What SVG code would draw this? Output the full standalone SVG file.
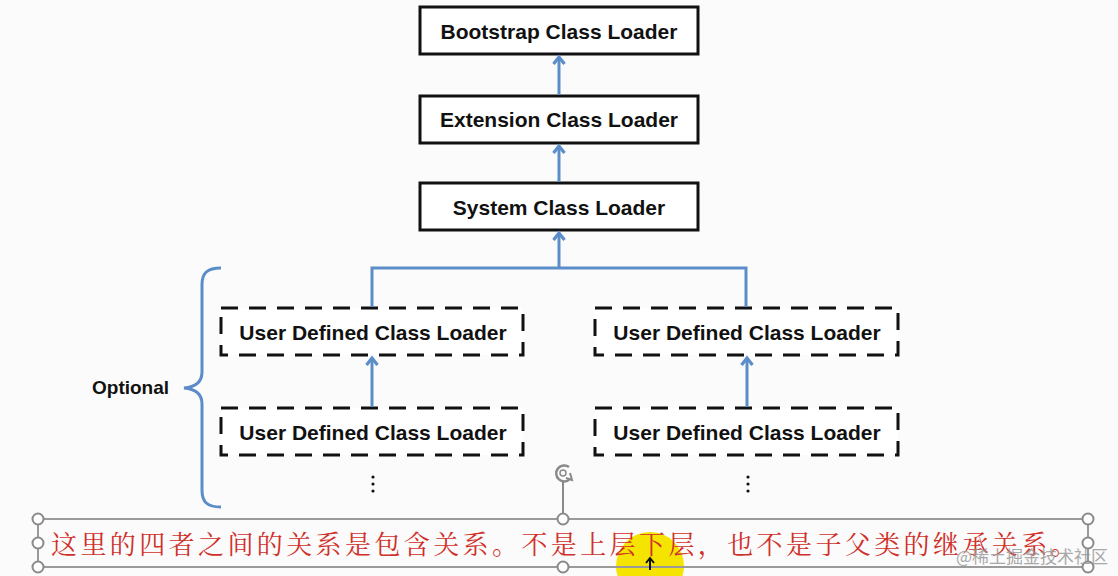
<svg xmlns="http://www.w3.org/2000/svg" width="1118" height="576" viewBox="0 0 1118 576">
<style>
.box{fill:#ffffff;stroke:#111;stroke-width:3}
.dbox{fill:#ffffff;stroke:#111;stroke-width:3;stroke-dasharray:17 11}
.lbl{font-family:"Liberation Sans",Arial,sans-serif;font-weight:bold;font-size:21px;fill:#111;text-anchor:middle}
.conn{fill:none;stroke:#5b8dc8;stroke-width:3}
.frame{fill:none;stroke:#9a9a9a;stroke-width:2}
.hdl{fill:#ffffff;stroke:#8a8a8a;stroke-width:2}
</style>
<defs>
<marker id="ah" viewBox="0 0 14 14" refX="11" refY="7" markerWidth="14" markerHeight="14" markerUnits="userSpaceOnUse" orient="auto">
<path d="M4,1.5 L11,7 L4,12.5" fill="none" stroke="#5b8dc8" stroke-width="3.2" stroke-linejoin="miter"/>
</marker>
</defs>
<rect width="1118" height="576" fill="#fbfbfb"/>

<g id="bootstrap">
<rect class="box" x="420" y="7" width="278" height="47"/>
<text class="lbl" x="559" y="39">Bootstrap Class Loader</text>
</g>
<g id="extension">
<rect class="box" x="420" y="96" width="278" height="47"/>
<text class="lbl" x="559" y="127">Extension Class Loader</text>
</g>
<g id="system">
<rect class="box" x="420" y="183" width="278" height="47"/>
<text class="lbl" x="559" y="215">System Class Loader</text>
</g>
<g id="user-left-1">
<rect class="dbox" x="221" y="308" width="302" height="47"/>
<text class="lbl" x="373" y="340">User Defined Class Loader</text>
</g>
<g id="user-left-2">
<rect class="dbox" x="221" y="408" width="302" height="47"/>
<text class="lbl" x="373" y="440">User Defined Class Loader</text>
</g>
<g id="user-right-1">
<rect class="dbox" x="595" y="308" width="303" height="47"/>
<text class="lbl" x="747" y="340">User Defined Class Loader</text>
</g>
<g id="user-right-2">
<rect class="dbox" x="595" y="408" width="303" height="47"/>
<text class="lbl" x="747" y="440">User Defined Class Loader</text>
</g>

<g id="connectors">
<line class="conn" x1="559" y1="95" x2="559" y2="57" marker-end="url(#ah)"/>
<line class="conn" x1="559" y1="182" x2="559" y2="146" marker-end="url(#ah)"/>
<polyline class="conn" points="372,307 372,268 746,268 746,307"/>
<line class="conn" x1="559" y1="268" x2="559" y2="233" marker-end="url(#ah)"/>
<line class="conn" x1="372" y1="407" x2="372" y2="358" marker-end="url(#ah)"/>
<line class="conn" x1="747" y1="407" x2="747" y2="358" marker-end="url(#ah)"/>
</g>

<g id="optional">
<path d="M221,268 C207,268 202,273 202,285 L202,372 C202,382 196,387 184,388 C196,389 202,394 202,404 L202,490 C202,502 207,507 221,507" fill="none" stroke="#5b8dc8" stroke-width="3"/>
<text x="92" y="394" font-family="Liberation Sans,Arial,sans-serif" font-weight="bold" font-size="19" fill="#111">Optional</text>
</g>

<g id="ellipsis" fill="#111">
<circle cx="373" cy="477" r="1.6"/><circle cx="373" cy="484" r="1.6"/><circle cx="373" cy="491" r="1.6"/>
<circle cx="748" cy="477" r="1.6"/><circle cx="748" cy="484" r="1.6"/><circle cx="748" cy="491" r="1.6"/>
</g>

<g id="note">
<circle cx="650" cy="566" r="34" fill="#f5e400"/>
<rect class="frame" x="38" y="519" width="1050" height="48"/>
<line x1="563" y1="482" x2="563" y2="513" stroke="#8a8a8a" stroke-width="2"/>
<path d="M569,467 A8,8 0 1 0 570,479" fill="none" stroke="#8a8a8a" stroke-width="2.5"/>
<path d="M566,478 L572,480 L570,473" fill="none" stroke="#8a8a8a" stroke-width="2"/>
<circle cx="563" cy="473" r="3" fill="none" stroke="#8a8a8a" stroke-width="1.5"/>
<circle class="hdl" cx="38" cy="519" r="5.5"/>
<circle class="hdl" cx="563" cy="519" r="5.5"/>
<circle class="hdl" cx="1088" cy="519" r="5.5"/>
<circle class="hdl" cx="38" cy="543" r="5.5"/>
<circle class="hdl" cx="1088" cy="543" r="5.5"/>
<circle class="hdl" cx="38" cy="567" r="5.5"/>
<circle class="hdl" cx="563" cy="567" r="5.5"/>
<circle class="hdl" cx="1088" cy="567" r="5.5"/>
<text x="51" y="554" font-family="'Noto Serif CJK SC','Noto Sans CJK SC',serif" font-size="26" letter-spacing="3.4" fill="#d0302a">这里的四者之间的关系是包含关系。不是上层下层，也不是子父类的继承关系。</text>
<path d="M650,558 L650,570 M646,563 L650,558 L654,563" stroke="#111" stroke-width="2" fill="none"/>
<text x="956" y="563" font-family="'Noto Sans CJK SC',sans-serif" font-size="17" fill="#9a9a9a" opacity="0.85">@稀土掘金技术社区</text>
</g>
</svg>
